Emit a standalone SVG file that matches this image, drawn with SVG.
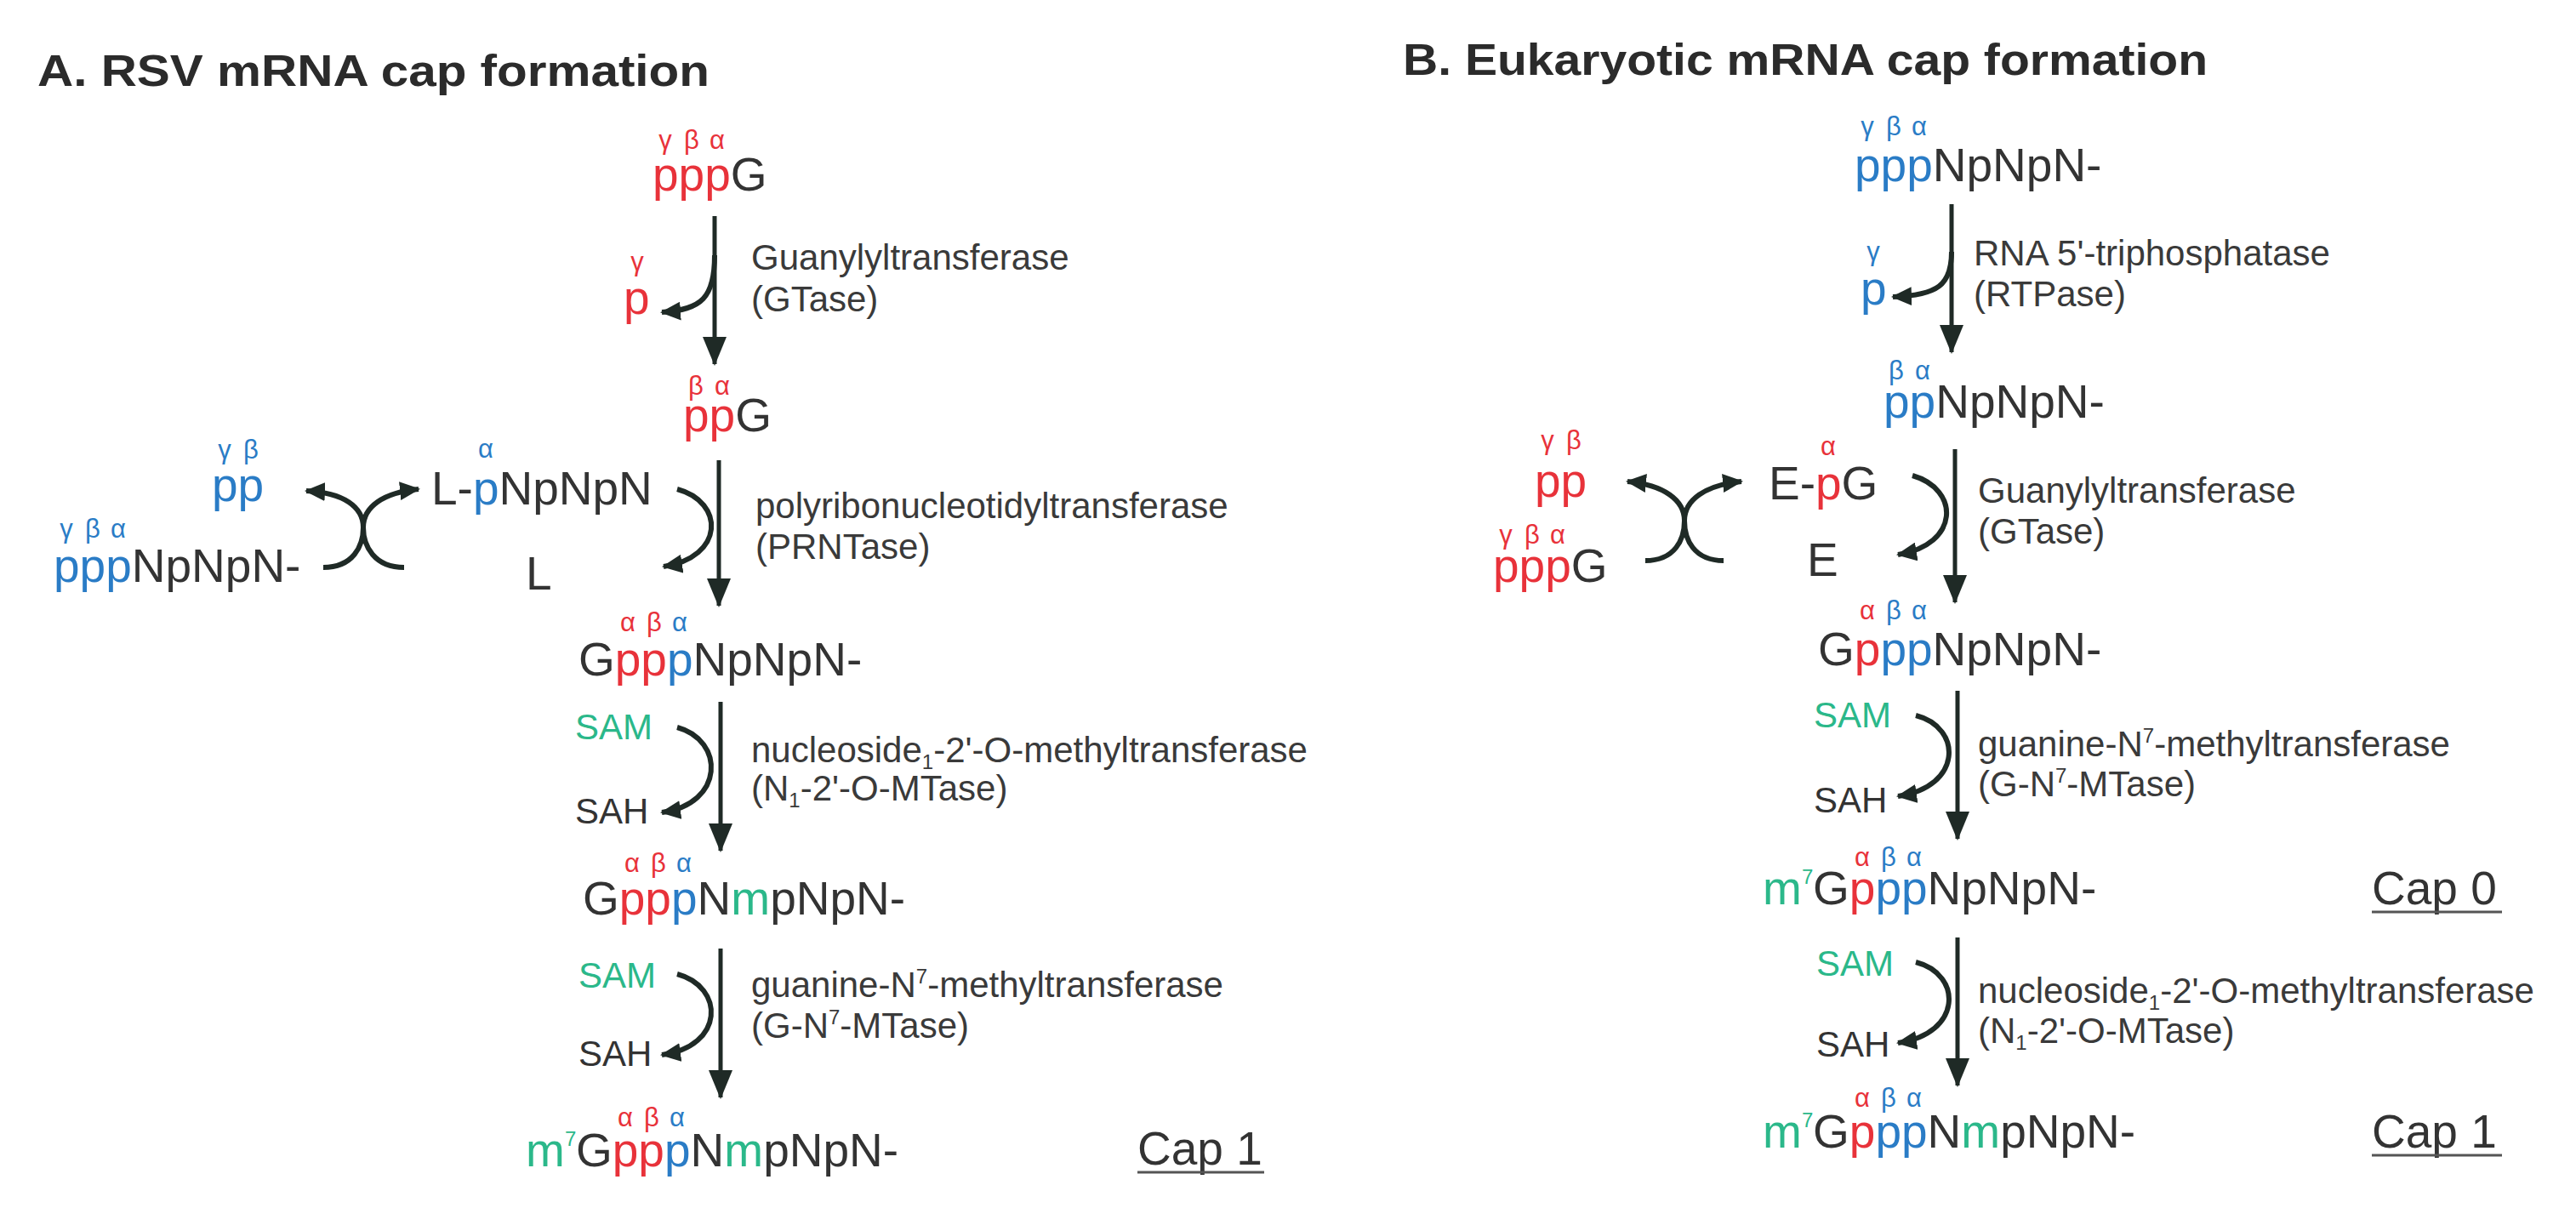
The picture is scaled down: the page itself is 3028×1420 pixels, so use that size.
<svg xmlns="http://www.w3.org/2000/svg" width="3028" height="1420" viewBox="0 0 3028 1420">
<style>
text{font-family:"Liberation Sans",Arial,sans-serif;fill:#333}
.t{font-size:52px;font-weight:bold;fill:#2b2b2b}
.m{font-size:55px}
.g{font-size:31px;text-anchor:middle}
.e{font-size:42px;fill:#3a3a3a}
.s{font-size:42px}
.sup{font-size:24px}
.r{fill:#e8323a}.b{fill:#2a7cc6}.gr{fill:#2bb88a}
.ml{stroke:#1f2a26;stroke-width:5;fill:none}
.cl{stroke:#1f2a26;stroke-width:6;fill:none}
</style>
<defs>
<marker id="big" viewBox="0 0 34 28" refX="32" refY="14" markerWidth="34" markerHeight="28" markerUnits="userSpaceOnUse" orient="auto"><path d="M0,0 L34,14 L0,28 z" fill="#1f2a26"/></marker>
<marker id="sm" viewBox="0 0 24 22" refX="22" refY="11" markerWidth="24" markerHeight="22" markerUnits="userSpaceOnUse" orient="auto"><path d="M0,0 L24,11 L0,22 z" fill="#1f2a26"/></marker>
</defs>
<rect width="3028" height="1420" fill="#fff"/>
<text class="t" x="44" y="101" textLength="790" lengthAdjust="spacingAndGlyphs">A. RSV mRNA cap formation</text>
<text class="t" x="1649" y="88" textLength="946" lengthAdjust="spacingAndGlyphs">B. Eukaryotic mRNA cap formation</text>

<g id="connectors">
<path class="ml" d="M840,254 V428" marker-end="url(#big)"/>
<path class="ml" d="M845,541 V712" marker-end="url(#big)"/>
<path class="ml" d="M847,825 V1000" marker-end="url(#big)"/>
<path class="ml" d="M847,1115 V1290" marker-end="url(#big)"/>
<path class="cl" d="M840,300 C840,350 825,364 778,367" marker-end="url(#sm)"/>
<path class="cl" d="M796,575 C852,590 852,655 780,666" marker-end="url(#sm)"/>
<path class="cl" d="M796,855 C852,870 852,945 778,955" marker-end="url(#sm)"/>
<path class="cl" d="M796,1145 C852,1160 852,1230 778,1240" marker-end="url(#sm)"/>
<path class="cl" d="M380,667 C415,667 427,642 427,620 C427,596 450,579 492,575" marker-end="url(#sm)"/>
<path class="cl" d="M475,667 C440,667 427,642 427,620 C427,596 404,579 360,577" marker-end="url(#sm)"/>
<path class="ml" d="M2294,240 V414" marker-end="url(#big)"/>
<path class="ml" d="M2298,528 V708" marker-end="url(#big)"/>
<path class="ml" d="M2301,812 V986" marker-end="url(#big)"/>
<path class="ml" d="M2301,1102 V1276" marker-end="url(#big)"/>
<path class="cl" d="M2294,296 C2294,335 2278,347 2225,349" marker-end="url(#sm)"/>
<path class="cl" d="M2248,559 C2304,575 2304,640 2231,652" marker-end="url(#sm)"/>
<path class="cl" d="M2252,841 C2307,855 2307,925 2231,936" marker-end="url(#sm)"/>
<path class="cl" d="M2252,1131 C2307,1145 2307,1215 2231,1226" marker-end="url(#sm)"/>
<path class="cl" d="M1934,659 C1969,659 1980,634 1980,612 C1980,588 2004,570 2047,566" marker-end="url(#sm)"/>
<path class="cl" d="M2026,659 C1991,659 1980,634 1980,612 C1980,588 1956,570 1913,566" marker-end="url(#sm)"/>
</g>

<g id="A-pppG"><text class="g r" x="782" y="175">γ</text><text class="g r" x="813" y="175">β</text><text class="g r" x="843" y="175">α</text>
<text class="m" x="767" y="224"><tspan class="r">ppp</tspan>G</text></g>
<g id="A-p"><text class="g r" x="749" y="318">γ</text><text class="m r" x="733" y="369">p</text></g>
<g id="A-e1"><text class="e" x="883" y="317">Guanylyltransferase</text><text class="e" x="883" y="366">(GTase)</text></g>
<g id="A-ppG"><text class="g r" x="818" y="464">β</text><text class="g r" x="849" y="464">α</text>
<text class="m" x="803" y="507"><tspan class="r">pp</tspan>G</text></g>
<g id="A-LpN"><text class="g b" x="571" y="538">α</text><text class="m" x="507" y="593">L-<tspan class="b">p</tspan>NpNpN</text></g>
<g id="A-L"><text class="m" x="618" y="693">L</text></g>
<g id="A-pp"><text class="g b" x="264" y="539">γ</text><text class="g b" x="295" y="539">β</text><text class="m b" x="249" y="589">pp</text></g>
<g id="A-pppN"><text class="g b" x="78" y="632">γ</text><text class="g b" x="109" y="632">β</text><text class="g b" x="139" y="632">α</text>
<text class="m" x="63" y="684"><tspan class="b">ppp</tspan>NpNpN-</text></g>
<g id="A-e2"><text class="e" x="888" y="609">polyribonucleotidyltransferase</text><text class="e" x="888" y="657">(PRNTase)</text></g>
<g id="A-GpppN"><text class="g r" x="738" y="742">α</text><text class="g r" x="769" y="742">β</text><text class="g b" x="799" y="742">α</text>
<text class="m" x="680" y="794">G<tspan class="r">pp</tspan><tspan class="b">p</tspan>NpNpN-</text></g>
<g id="A-sam1"><text class="s gr" x="676" y="869">SAM</text><text class="s" x="676" y="968">SAH</text></g>
<g id="A-e3"><text class="e" x="883" y="896">nucleoside<tspan class="sup" dy="8">1</tspan><tspan dy="-8">-2'-O-methyltransferase</tspan></text>
<text class="e" x="883" y="941">(N<tspan class="sup" dy="8">1</tspan><tspan dy="-8">-2'-O-MTase)</tspan></text></g>
<g id="A-GpppNm"><text class="g r" x="743" y="1025">α</text><text class="g r" x="774" y="1025">β</text><text class="g b" x="804" y="1025">α</text>
<text class="m" x="685" y="1075">G<tspan class="r">pp</tspan><tspan class="b">p</tspan>N<tspan class="gr">m</tspan>pNpN-</text></g>
<g id="A-sam2"><text class="s gr" x="680" y="1161">SAM</text><text class="s" x="680" y="1253">SAH</text></g>
<g id="A-e4"><text class="e" x="883" y="1172">guanine-N<tspan class="sup" dy="-16">7</tspan><tspan dy="16">-methyltransferase</tspan></text>
<text class="e" x="883" y="1220">(G-N<tspan class="sup" dy="-16">7</tspan><tspan dy="16">-MTase)</tspan></text></g>
<g id="A-cap1"><text class="g r" x="735" y="1324">α</text><text class="g r" x="766" y="1324">β</text><text class="g b" x="796" y="1324">α</text>
<text class="m gr" x="618" y="1371">m</text><text class="sup gr" x="664" y="1347">7</text>
<text class="m" x="677" y="1371">G<tspan class="r">pp</tspan><tspan class="b">p</tspan>N<tspan class="gr">m</tspan>pNpN-</text>
<text class="m" x="1337" y="1369">Cap 1</text><path d="M1337,1378 H1486" stroke="#555" stroke-width="3"/></g>

<g id="B-pppN"><text class="g b" x="2195" y="159">γ</text><text class="g b" x="2226" y="159">β</text><text class="g b" x="2256" y="159">α</text>
<text class="m" x="2180" y="213"><tspan class="b">ppp</tspan>NpNpN-</text></g>
<g id="B-p"><text class="g b" x="2202" y="306">γ</text><text class="m b" x="2187" y="358">p</text></g>
<g id="B-e1"><text class="e" x="2320" y="312">RNA 5'-triphosphatase</text><text class="e" x="2320" y="360">(RTPase)</text></g>
<g id="B-ppN"><text class="g b" x="2229" y="446">β</text><text class="g b" x="2260" y="446">α</text>
<text class="m" x="2214" y="491"><tspan class="b">pp</tspan>NpNpN-</text></g>
<g id="B-EpG"><text class="g r" x="2149" y="535">α</text><text class="m" x="2079" y="587">E-<tspan class="r">p</tspan>G</text></g>
<g id="B-E"><text class="m" x="2124" y="677">E</text></g>
<g id="B-pp"><text class="g r" x="1819" y="528">γ</text><text class="g r" x="1850" y="528">β</text><text class="m r" x="1804" y="584">pp</text></g>
<g id="B-pppG"><text class="g r" x="1770" y="639">γ</text><text class="g r" x="1801" y="639">β</text><text class="g r" x="1831" y="639">α</text>
<text class="m" x="1755" y="684"><tspan class="r">ppp</tspan>G</text></g>
<g id="B-e2"><text class="e" x="2325" y="591">Guanylyltransferase</text><text class="e" x="2325" y="639">(GTase)</text></g>
<g id="B-GpppN"><text class="g r" x="2195" y="728">α</text><text class="g b" x="2226" y="728">β</text><text class="g b" x="2256" y="728">α</text>
<text class="m" x="2137" y="782">G<tspan class="r">p</tspan><tspan class="b">pp</tspan>NpNpN-</text></g>
<g id="B-sam1"><text class="s gr" x="2132" y="855">SAM</text><text class="s" x="2132" y="955">SAH</text></g>
<g id="B-e3"><text class="e" x="2325" y="889">guanine-N<tspan class="sup" dy="-16">7</tspan><tspan dy="16">-methyltransferase</tspan></text>
<text class="e" x="2325" y="936">(G-N<tspan class="sup" dy="-16">7</tspan><tspan dy="16">-MTase)</tspan></text></g>
<g id="B-cap0"><text class="g r" x="2189" y="1018">α</text><text class="g b" x="2220" y="1018">β</text><text class="g b" x="2250" y="1018">α</text>
<text class="m gr" x="2072" y="1063">m</text><text class="sup gr" x="2118" y="1039">7</text>
<text class="m" x="2131" y="1063">G<tspan class="r">p</tspan><tspan class="b">pp</tspan>NpNpN-</text>
<text class="m" x="2788" y="1063">Cap 0</text><path d="M2788,1072 H2941" stroke="#555" stroke-width="3"/></g>
<g id="B-sam2"><text class="s gr" x="2135" y="1147">SAM</text><text class="s" x="2135" y="1242">SAH</text></g>
<g id="B-e4"><text class="e" x="2325" y="1179">nucleoside<tspan class="sup" dy="8">1</tspan><tspan dy="-8">-2'-O-methyltransferase</tspan></text>
<text class="e" x="2325" y="1226">(N<tspan class="sup" dy="8">1</tspan><tspan dy="-8">-2'-O-MTase)</tspan></text></g>
<g id="B-cap1"><text class="g r" x="2189" y="1301">α</text><text class="g b" x="2220" y="1301">β</text><text class="g b" x="2250" y="1301">α</text>
<text class="m gr" x="2072" y="1349">m</text><text class="sup gr" x="2118" y="1325">7</text>
<text class="m" x="2131" y="1349">G<tspan class="r">p</tspan><tspan class="b">pp</tspan>N<tspan class="gr">m</tspan>pNpN-</text>
<text class="m" x="2788" y="1349">Cap 1</text><path d="M2788,1358 H2941" stroke="#555" stroke-width="3"/></g>
</svg>
